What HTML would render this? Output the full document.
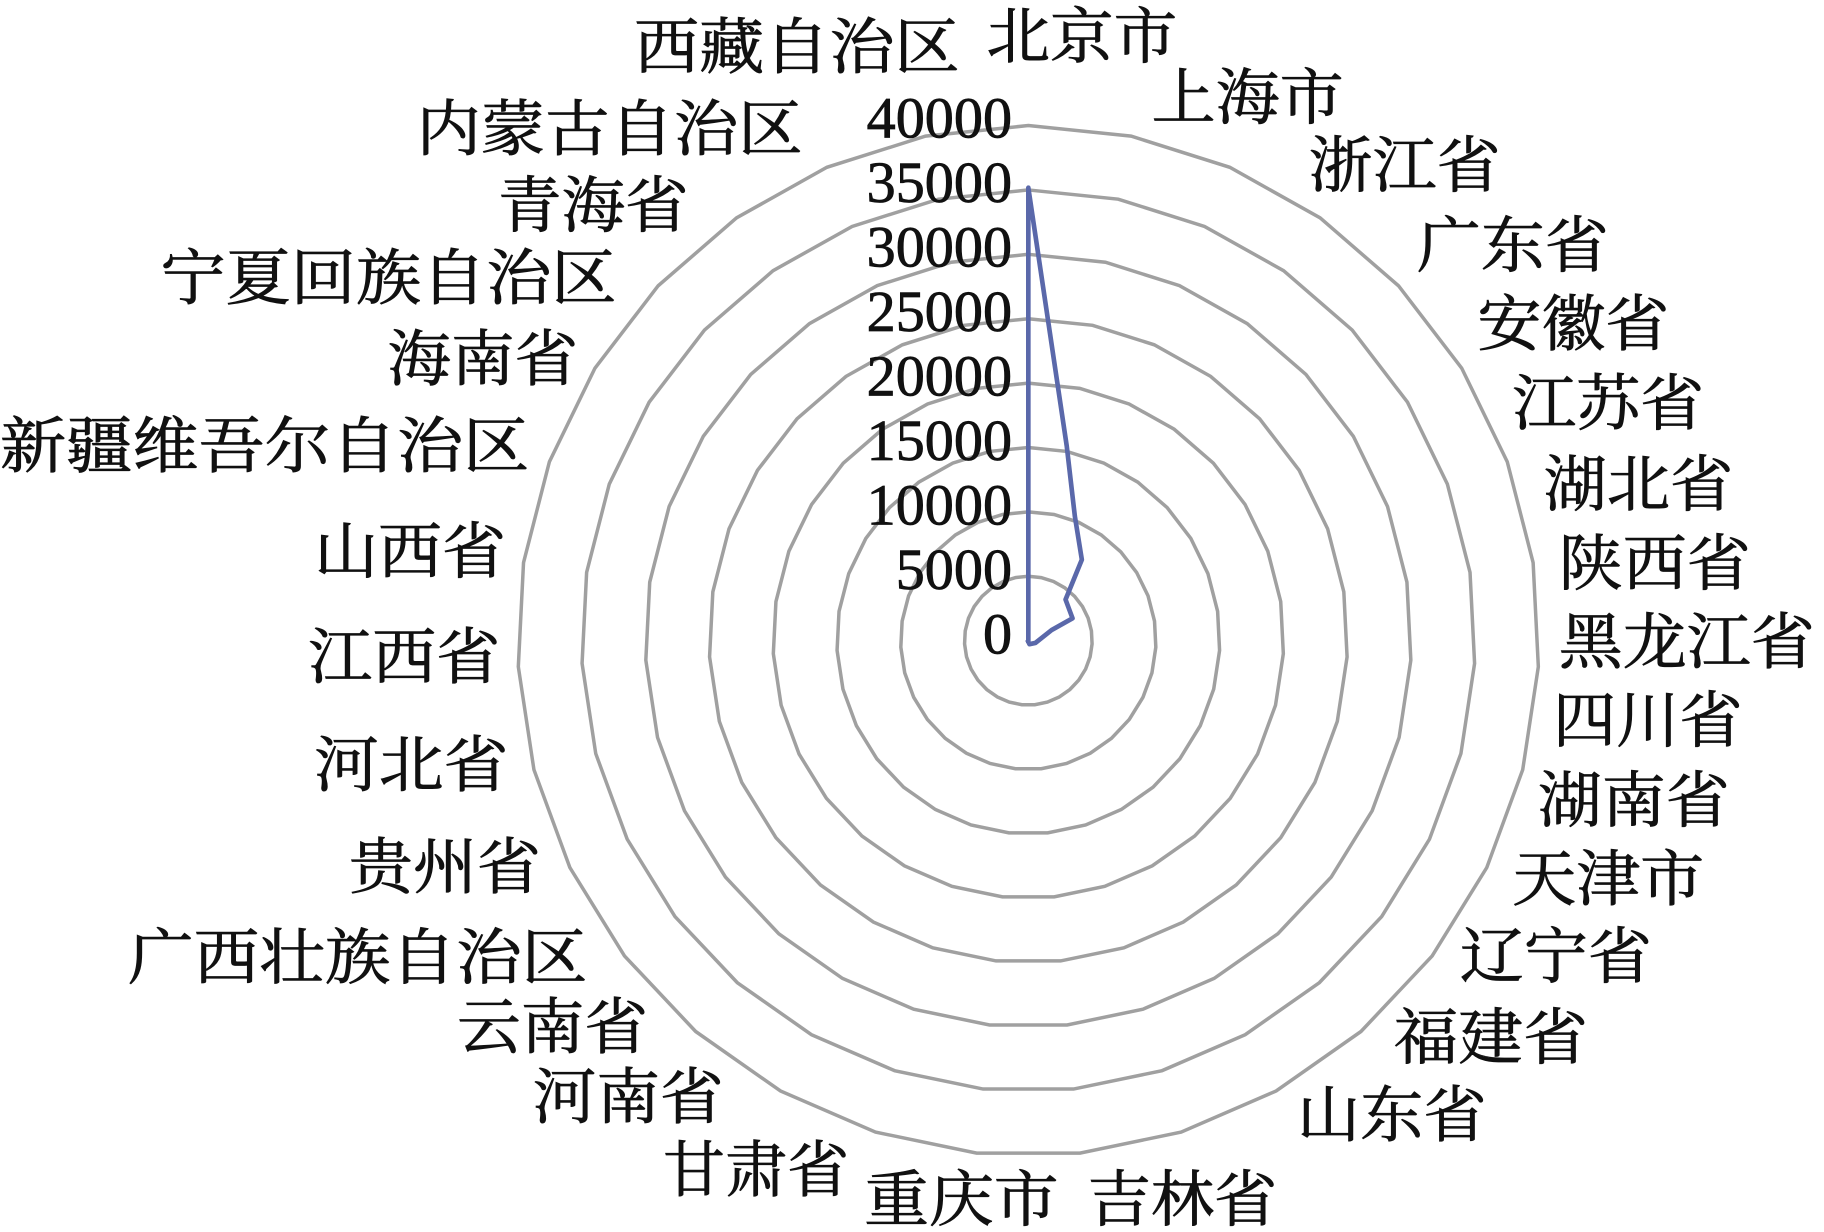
<!DOCTYPE html>
<html><head><meta charset="utf-8"><style>
html,body{margin:0;padding:0;background:#fff;}
svg{display:block;}
text{font-family:"Liberation Serif","Noto Serif CJK SC",serif;fill:#111;stroke:#111;stroke-width:0.7;}
</style></head><body>
<svg width="1824" height="1232" viewBox="0 0 1568 1050" preserveAspectRatio="none" xmlns="http://www.w3.org/2000/svg">
<defs>
<polygon id="ring" fill="none" stroke="#a0a0a0" stroke-width="3.5" vector-effect="non-scaling-stroke" points="0,-100 20.13,-97.95 39.44,-91.90 57.13,-82.08 72.48,-68.90 84.86,-52.90 93.78,-34.73 98.85,-15.14 99.87,5.06 96.81,25.06 89.78,44.04 79.08,61.21 65.14,75.88 48.53,87.43 29.93,95.41 10.12,99.49 -10.12,99.49 -29.93,95.41 -48.53,87.43 -65.14,75.88 -79.08,61.21 -89.78,44.04 -96.81,25.06 -99.87,5.06 -98.85,-15.14 -93.78,-34.73 -84.86,-52.90 -72.48,-68.90 -57.13,-82.08 -39.44,-91.90 -20.13,-97.95"/>
</defs>
<use href="#ring" transform="translate(884,546) scale(0.54875)"/>
<use href="#ring" transform="translate(884,546) scale(1.0975)"/>
<use href="#ring" transform="translate(884,546) scale(1.64625)"/>
<use href="#ring" transform="translate(884,546) scale(2.195)"/>
<use href="#ring" transform="translate(884,546) scale(2.74375)"/>
<use href="#ring" transform="translate(884,546) scale(3.2925)"/>
<use href="#ring" transform="translate(884,546) scale(3.84125)"/>
<use href="#ring" transform="translate(884,546) scale(4.39)"/>
<polyline fill="none" stroke="#5a68aa" stroke-width="4" stroke-linejoin="round" points="884,548 884,160 917,380 924,440 930,477 916,511 922,527 904,537 890,548 885,549 883,545"/>
<g font-size="50" text-anchor="end">
<text x="870" y="117">40000</text>
<text x="870" y="172">35000</text>
<text x="870" y="227">30000</text>
<text x="870" y="282">25000</text>
<text x="870" y="337">20000</text>
<text x="870" y="392">15000</text>
<text x="870" y="447">10000</text>
<text x="870" y="502">5000</text>
<text x="870" y="557">0</text>
</g>
<g font-size="52">
<text x="545" y="58" textLength="280" lengthAdjust="spacingAndGlyphs">西藏自治区</text>
<text x="848" y="49" textLength="164" lengthAdjust="spacingAndGlyphs">北京市</text>
<text x="990" y="101" textLength="165" lengthAdjust="spacingAndGlyphs">上海市</text>
<text x="358" y="128" textLength="332" lengthAdjust="spacingAndGlyphs">内蒙古自治区</text>
<text x="1125" y="159" textLength="165" lengthAdjust="spacingAndGlyphs">浙江省</text>
<text x="428" y="193" textLength="164" lengthAdjust="spacingAndGlyphs">青海省</text>
<text x="1218" y="227" textLength="165" lengthAdjust="spacingAndGlyphs">广东省</text>
<text x="138" y="255" textLength="392" lengthAdjust="spacingAndGlyphs">宁夏回族自治区</text>
<text x="1270" y="294" textLength="165" lengthAdjust="spacingAndGlyphs">安徽省</text>
<text x="333" y="324" textLength="164" lengthAdjust="spacingAndGlyphs">海南省</text>
<text x="1300" y="362" textLength="165" lengthAdjust="spacingAndGlyphs">江苏省</text>
<text x="0" y="398" textLength="455" lengthAdjust="spacingAndGlyphs">新疆维吾尔自治区</text>
<text x="1327" y="431" textLength="163" lengthAdjust="spacingAndGlyphs">湖北省</text>
<text x="270" y="488" textLength="165" lengthAdjust="spacingAndGlyphs">山西省</text>
<text x="1340" y="498" textLength="165" lengthAdjust="spacingAndGlyphs">陕西省</text>
<text x="1340" y="565" textLength="220" lengthAdjust="spacingAndGlyphs">黑龙江省</text>
<text x="265" y="578" textLength="165" lengthAdjust="spacingAndGlyphs">江西省</text>
<text x="1335" y="632" textLength="163" lengthAdjust="spacingAndGlyphs">四川省</text>
<text x="270" y="670" textLength="167" lengthAdjust="spacingAndGlyphs">河北省</text>
<text x="1322" y="700" textLength="165" lengthAdjust="spacingAndGlyphs">湖南省</text>
<text x="300" y="757" textLength="165" lengthAdjust="spacingAndGlyphs">贵州省</text>
<text x="1300" y="767" textLength="165" lengthAdjust="spacingAndGlyphs">天津市</text>
<text x="110" y="834" textLength="395" lengthAdjust="spacingAndGlyphs">广西壮族自治区</text>
<text x="1255" y="833" textLength="165" lengthAdjust="spacingAndGlyphs">辽宁省</text>
<text x="393" y="893" textLength="164" lengthAdjust="spacingAndGlyphs">云南省</text>
<text x="1198" y="902" textLength="167" lengthAdjust="spacingAndGlyphs">福建省</text>
<text x="458" y="953" textLength="164" lengthAdjust="spacingAndGlyphs">河南省</text>
<text x="1115" y="968" textLength="163" lengthAdjust="spacingAndGlyphs">山东省</text>
<text x="570" y="1015" textLength="160" lengthAdjust="spacingAndGlyphs">甘肃省</text>
<text x="743" y="1040" textLength="167" lengthAdjust="spacingAndGlyphs">重庆市</text>
<text x="935" y="1040" textLength="163" lengthAdjust="spacingAndGlyphs">吉林省</text>
</g>
</svg>
</body></html>
